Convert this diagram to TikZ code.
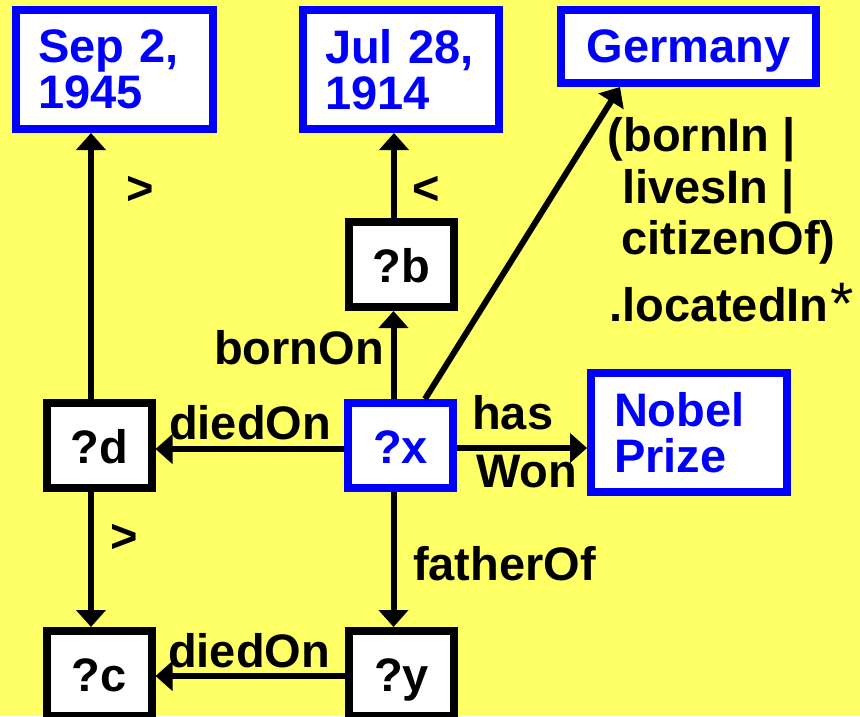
\documentclass[tikz,border=0pt]{standalone}
\usepackage{fontspec}
\setmainfont{Liberation Sans}
\usetikzlibrary{arrows.meta}
\definecolor{bgyellow}{RGB}{255,255,102}
\definecolor{nblue}{RGB}{0,0,255}
\begin{document}
\begin{tikzpicture}[x=1pt,y=-1pt,
  txt/.style={font=\fontsize{47}{45.5}\selectfont\bfseries, inner sep=0pt},
  box/.style={draw, line width=8pt, fill=white, txt},
  bbox/.style={box, draw=nblue, text=nblue},
  kbox/.style={box, draw=black, text=black},
  varbox/.style={minimum width=105pt, minimum height=85pt, text height=35pt, text depth=0pt, align=center},
  arr/.style={line width=6pt, -{Triangle[length=17pt,width=29pt]}},
]
\fill[bgyellow] (0,0) rectangle (860,716);
\useasboundingbox (0,0) rectangle (860,716);

% boxes
\node[bbox, minimum width=197pt, minimum height=119pt, text width=153pt, inner xsep=22pt, align=left] (sep) at (114.5,69.5) {Sep 2,\\1945};
\node[bbox, minimum width=196pt, minimum height=119pt, text width=152pt, inner xsep=22pt, align=left] (jul) at (401,69.5) {Jul 28,\\1914};
\node[bbox, minimum width=255pt, minimum height=73pt, text height=41pt, text depth=10pt] (germany) at (688.5,46.5) {Germany};
\node[bbox, minimum width=196pt, minimum height=119pt, text width=150pt, inner xsep=23pt, align=left] (nobel) at (689,432.5) {Nobel\\Prize};
\node[kbox, varbox] (b) at (401,264.5) {?b};
\node[kbox, varbox] (d) at (99,445.5) {?d};
\node[bbox, varbox] (x) at (400.5,445.5) {?x};
\node[kbox, varbox] (c) at (99,673.5) {?c};
\node[kbox, varbox] (y) at (401.5,673.5) {?y};

% connectors
\draw[arr] ([xshift=-8pt]d.north) -- ([xshift=-8pt]d.north |- sep.south);
\draw[arr] ([xshift=-7pt]x.north) -- ([xshift=-7pt]x.north |- b.south);
\draw[arr] ([xshift=-7pt]b.north) -- ([xshift=-7pt]b.north |- jul.south);
\draw[arr] ([xshift=24.5pt]x.north) -- ([xshift=-68.5pt]germany.south);
\draw[arr] ([yshift=-3.5pt]x.west) -- ([yshift=-3.5pt]x.west -| d.east);
\draw[arr] ([yshift=-2.5pt]x.east) -- ([yshift=-2.5pt]x.east -| nobel.west);
\draw[arr] ([xshift=-7pt]x.south) -- ([xshift=-7pt]x.south |- y.north);
\draw[arr] ([xshift=-8pt]d.south) -- ([xshift=-8pt]d.south |- c.north);
\draw[arr] ([yshift=-2.5pt]y.west) -- ([yshift=-2.5pt]y.west -| c.east);

% labels
\node[txt] (gt1) at (140,190.5) {>};
\node[txt] (lt1) at (426.5,190.5) {<};
\node[txt] (gt2) at (124.5,538) {>};
\node[txt, anchor=base west] (lbornon) at (214,364) {bornOn};
\node[txt, anchor=base west] (ldied1) at (169,439) {diedOn};
\node[txt, anchor=base west] (lhas) at (472,429) {has};
\node[txt, anchor=base west] (lwon) at (476,487) {Won};
\node[txt, anchor=base west] (lfather) at (413,580) {fatherOf};
\node[txt, anchor=base west] (ldied2) at (168,667) {diedOn};
\node[txt, anchor=base west] (lp1) at (607.5,151) {(bornIn |};
\node[txt, anchor=base west] (lp2) at (622,203) {livesIn |};
\node[txt, anchor=base west] (lp3) at (621,254) {citizenOf)};
\node[txt, anchor=base west] (lp4) at (609,321) {.locatedIn\hspace{2pt}\raisebox{-3pt}{\fontsize{60}{60}\selectfont\mdseries *}};
\end{tikzpicture}
\end{document}
